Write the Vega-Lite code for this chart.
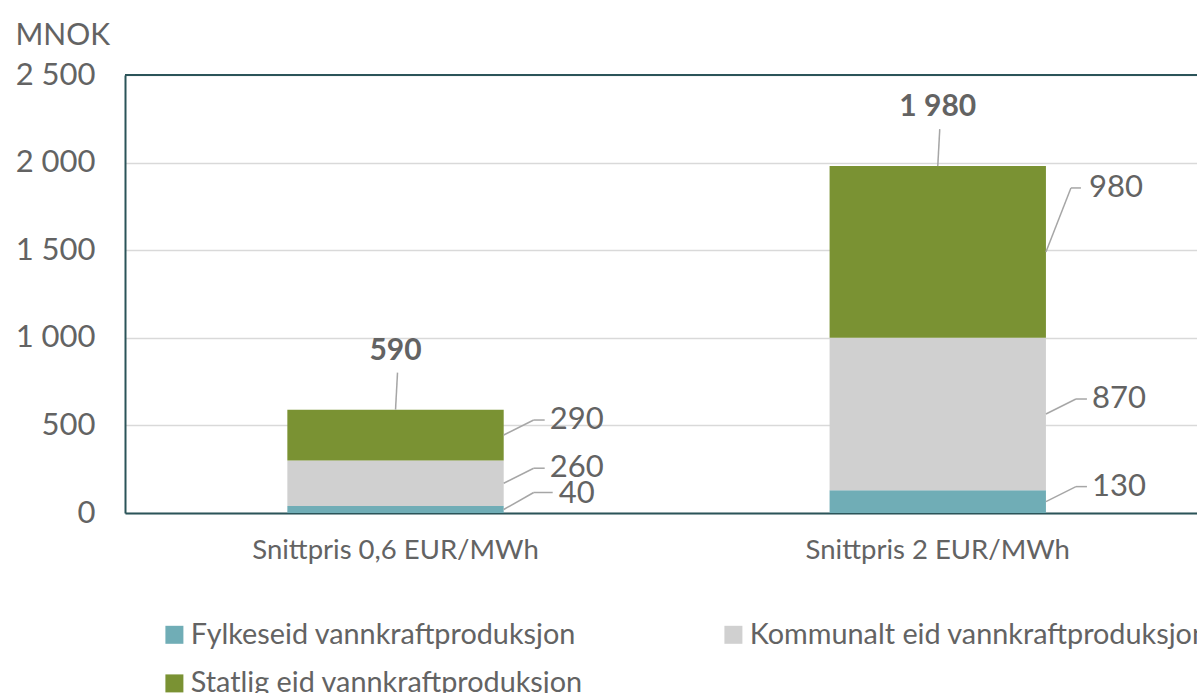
{
  "$schema": "https://vega.github.io/schema/vega-lite/v6.json",
  "autosize": "none",
  "width": 1072,
  "height": 438,
  "padding": {"left": 125, "top": 75, "right": 0, "bottom": 180},
  "background": "white",
  "data": {
    "values": [
      {"scenario": "Snittpris 0,6 EUR/MWh", "eier": "Fylkeseid vannkraftproduksjon", "value": 40},
      {"scenario": "Snittpris 0,6 EUR/MWh", "eier": "Kommunalt eid vannkraftproduksjon", "value": 260},
      {"scenario": "Snittpris 0,6 EUR/MWh", "eier": "Statlig eid vannkraftproduksjon", "value": 290},
      {"scenario": "Snittpris 2 EUR/MWh", "eier": "Fylkeseid vannkraftproduksjon", "value": 130},
      {"scenario": "Snittpris 2 EUR/MWh", "eier": "Kommunalt eid vannkraftproduksjon", "value": 870},
      {"scenario": "Snittpris 2 EUR/MWh", "eier": "Statlig eid vannkraftproduksjon", "value": 980}
    ]
  },
  "layer": [
    {
      "mark": {"type": "bar"},
      "encoding": {
        "x": {"field": "scenario", "type": "nominal", "title": null,
              "scale": {"paddingInner": 0.601, "paddingOuter": 0.289, "align": 0.518, "round": false}},
        "y": {"aggregate": "sum", "field": "value", "type": "quantitative", "title": "MNOK", "stack": "zero",
              "scale": {"domain": [0, 2500], "nice": false},
              "axis": {"values": [0, 500, 1000, 1500, 2000, 2500]}},
        "color": {"field": "eier", "type": "nominal", "title": null,
                  "scale": {"domain": ["Fylkeseid vannkraftproduksjon", "Kommunalt eid vannkraftproduksjon", "Statlig eid vannkraftproduksjon"],
                            "range": ["#70ADB6", "#D0D0D0", "#7A9233"]}},
        "order": {"field": "eier", "sort": "ascending"}
      }
    },
    {
      "mark": {"type": "rule", "color": "#2B5459", "strokeWidth": 2},
      "encoding": {"y": {"datum": 2500, "type": "quantitative", "title": "MNOK"}}
    },
    {
      "transform": [
        {"stack": "value", "groupby": ["scenario"], "sort": [{"field": "eier", "order": "ascending"}], "as": ["v0", "v1"]},
        {"calculate": "(datum.v0 + datum.v1) / 2", "as": "mid"},
        {"filter": "datum.value != 980 && datum.value != 40"}
      ],
      "layer": [
        {
          "mark": {"type": "rule", "color": "#A6A6A6", "strokeWidth": 1.5, "x2Offset": 30, "y2Offset": -15},
          "encoding": {
            "x": {"field": "scenario", "type": "nominal", "bandPosition": 1, "title": null},
            "x2": {"field": "scenario", "bandPosition": 1},
            "y": {"field": "mid", "type": "quantitative", "title": "MNOK"},
            "y2": {"field": "mid"}
          }
        },
        {
          "mark": {"type": "rule", "color": "#A6A6A6", "strokeWidth": 1.5, "xOffset": 30, "x2Offset": 41, "yOffset": -15, "y2Offset": -15},
          "encoding": {
            "x": {"field": "scenario", "type": "nominal", "bandPosition": 1, "title": null},
            "x2": {"field": "scenario", "bandPosition": 1},
            "y": {"field": "mid", "type": "quantitative", "title": "MNOK"},
            "y2": {"field": "mid"}
          }
        },
        {
          "mark": {"type": "text", "align": "left", "baseline": "middle", "dx": 46, "dy": -15, "font": "Lato", "fontSize": 31, "color": "#636363"},
          "encoding": {
            "x": {"field": "scenario", "type": "nominal", "bandPosition": 1, "title": null},
            "y": {"field": "mid", "type": "quantitative", "title": "MNOK"},
            "text": {"field": "value", "type": "quantitative"}
          }
        }
      ]
    },
    {
      "transform": [
        {"stack": "value", "groupby": ["scenario"], "sort": [{"field": "eier", "order": "ascending"}], "as": ["v0", "v1"]},
        {"calculate": "(datum.v0 + datum.v1) / 2", "as": "mid"},
        {"filter": "datum.value == 40"}
      ],
      "layer": [
        {
          "mark": {"type": "rule", "color": "#A6A6A6", "strokeWidth": 1.5, "x2Offset": 30, "y2Offset": -17},
          "encoding": {
            "x": {"field": "scenario", "type": "nominal", "bandPosition": 1, "title": null},
            "x2": {"field": "scenario", "bandPosition": 1},
            "y": {"field": "mid", "type": "quantitative", "title": "MNOK"},
            "y2": {"field": "mid"}
          }
        },
        {
          "mark": {"type": "rule", "color": "#A6A6A6", "strokeWidth": 1.5, "xOffset": 30, "x2Offset": 49, "yOffset": -17, "y2Offset": -17},
          "encoding": {
            "x": {"field": "scenario", "type": "nominal", "bandPosition": 1, "title": null},
            "x2": {"field": "scenario", "bandPosition": 1},
            "y": {"field": "mid", "type": "quantitative", "title": "MNOK"},
            "y2": {"field": "mid"}
          }
        },
        {
          "mark": {"type": "text", "align": "left", "baseline": "middle", "dx": 55, "dy": -15, "font": "Lato", "fontSize": 31, "color": "#636363"},
          "encoding": {
            "x": {"field": "scenario", "type": "nominal", "bandPosition": 1, "title": null},
            "y": {"field": "mid", "type": "quantitative", "title": "MNOK"},
            "text": {"field": "value", "type": "quantitative"}
          }
        }
      ]
    },
    {
      "transform": [
        {"stack": "value", "groupby": ["scenario"], "sort": [{"field": "eier", "order": "ascending"}], "as": ["v0", "v1"]},
        {"calculate": "(datum.v0 + datum.v1) / 2", "as": "mid"},
        {"filter": "datum.value == 980"}
      ],
      "layer": [
        {
          "mark": {"type": "rule", "color": "#A6A6A6", "strokeWidth": 1.5, "x2Offset": 25, "y2Offset": -64},
          "encoding": {
            "x": {"field": "scenario", "type": "nominal", "bandPosition": 1, "title": null},
            "x2": {"field": "scenario", "bandPosition": 1},
            "y": {"field": "mid", "type": "quantitative", "title": "MNOK"},
            "y2": {"field": "mid"}
          }
        },
        {
          "mark": {"type": "rule", "color": "#A6A6A6", "strokeWidth": 1.5, "xOffset": 25, "x2Offset": 35, "yOffset": -64, "y2Offset": -64},
          "encoding": {
            "x": {"field": "scenario", "type": "nominal", "bandPosition": 1, "title": null},
            "x2": {"field": "scenario", "bandPosition": 1},
            "y": {"field": "mid", "type": "quantitative", "title": "MNOK"},
            "y2": {"field": "mid"}
          }
        },
        {
          "mark": {"type": "text", "align": "left", "baseline": "middle", "dx": 43, "dy": -64, "font": "Lato", "fontSize": 31, "color": "#636363"},
          "encoding": {
            "x": {"field": "scenario", "type": "nominal", "bandPosition": 1, "title": null},
            "y": {"field": "mid", "type": "quantitative", "title": "MNOK"},
            "text": {"field": "value", "type": "quantitative"}
          }
        }
      ]
    },
    {
      "transform": [
        {"aggregate": [{"op": "sum", "field": "value", "as": "total"}], "groupby": ["scenario"]},
        {"calculate": "replace(format(datum.total, ','), ',', ' ')", "as": "totalLabel"}
      ],
      "layer": [
        {
          "mark": {"type": "rule", "color": "#A6A6A6", "strokeWidth": 1.5, "y2Offset": -37, "x2Offset": 2},
          "encoding": {
            "x": {"field": "scenario", "type": "nominal", "bandPosition": 0.5, "title": null},
            "x2": {"field": "scenario", "bandPosition": 0.5},
            "y": {"field": "total", "type": "quantitative", "title": "MNOK"},
            "y2": {"field": "total"}
          }
        },
        {
          "mark": {"type": "text", "align": "center", "baseline": "middle", "dy": -59, "font": "Lato", "fontSize": 30, "fontWeight": "bold", "color": "#636363"},
          "encoding": {
            "x": {"field": "scenario", "type": "nominal", "bandPosition": 0.5, "title": null},
            "y": {"field": "total", "type": "quantitative", "title": "MNOK"},
            "text": {"field": "totalLabel", "type": "nominal"}
          }
        }
      ]
    }
  ],
  "config": {
    "font": "Lato",
    "view": {"stroke": null},
    "axisY": {
      "labelExpr": "replace(format(datum.value, ','), ',', ' ')",
      "labelFont": "Lato",
      "labelFontSize": 31,
      "labelColor": "#636363",
      "labelPadding": 30,
      "ticks": false,
      "domain": true,
      "domainColor": "#2B5459",
      "domainWidth": 2,
      "gridColor": "#D9D9D9",
      "gridWidth": 1.5,
      "titleAngle": 0,
      "titleAlign": "left",
      "titleBaseline": "middle",
      "titleX": -110,
      "titleY": -40,
      "titleFont": "Lato",
      "titleFontSize": 30,
      "titleFontWeight": "normal",
      "titleColor": "#636363"
    },
    "axisX": {
      "labelAngle": 0,
      "labelFont": "Lato",
      "labelFontSize": 27.5,
      "labelColor": "#636363",
      "labelPadding": 23,
      "labelLimit": 0,
      "ticks": false,
      "domain": true,
      "domainColor": "#2B5459",
      "domainWidth": 2,
      "grid": false,
      "zindex": 1
    },
    "legend": {
      "orient": "none",
      "legendX": 35,
      "legendY": 545,
      "direction": "horizontal",
      "columns": 2,
      "columnPadding": 136,
      "rowPadding": 19,
      "symbolType": "square",
      "symbolSize": 324,
      "symbolStrokeWidth": 0,
      "labelFont": "Lato",
      "labelFontSize": 28.8,
      "labelColor": "#636363",
      "labelOffset": 2,
      "labelLimit": 0
    }
  }
}
